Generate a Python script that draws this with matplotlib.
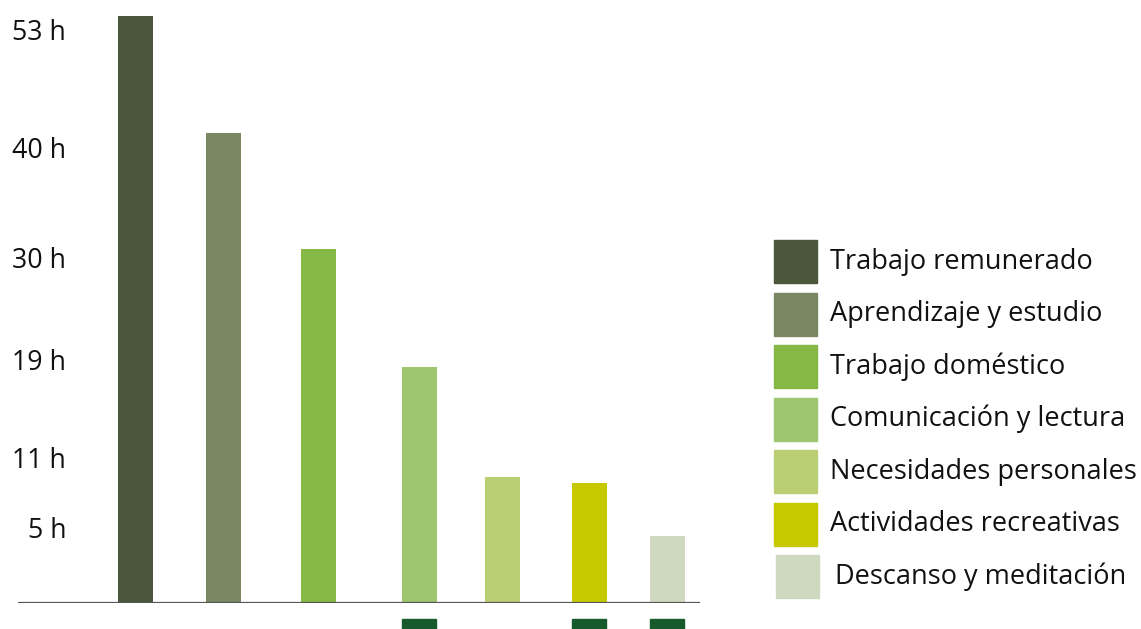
import numpy as np
import matplotlib
matplotlib.use("Agg")
import matplotlib.pyplot as plt
import matplotlib.transforms as mtransforms
from matplotlib.patches import Rectangle

# Weekly hours by activity
categories = [
    "Trabajo remunerado",
    "Aprendizaje y estudio",
    "Trabajo doméstico",
    "Comunicación y lectura",
    "Necesidades personales",
    "Actividades recreativas",
    "Descanso y meditación",
]
hours = [54.5, 41.7, 30.7, 18.4, 9.3, 8.8, 4.5]
colors = ["#4a573c", "#7a8862", "#86b845", "#9ec570", "#bace72", "#c6c900", "#cfd9bf"]

tick_values = [5, 11, 19, 30, 40, 53]
tick_labels = [f"{v} h" for v in tick_values]

# Layout: bar centres along the baseline and the dark markers under some bars
x_pos = [135.5, 223.5, 318.5, 419, 502.5, 589, 667]
marker_idx = [3, 5, 6]

W, H, DPI = 1141, 629, 100
plt.rcParams["font.family"] = ["Open Sans", "DejaVu Sans"]

fig = plt.figure(figsize=(W / DPI, H / DPI), dpi=DPI)
base_px = 603
ax = fig.add_axes([18 / W, (H - base_px) / H, (700 - 18) / W, base_px / H])

# Uneven value axis: tick hours placed at fixed heights
knot_h = np.array([0, 5, 11, 19, 30, 40, 53, 90])
knot_p = np.array([0, 75, 146, 243, 346, 455, 573, 573 + 37 * (118 / 13)])


def fwd(v):
    return np.interp(v, knot_h, knot_p)


def inv(p):
    return np.interp(p, knot_p, knot_h)


ax.set_yscale("function", functions=(fwd, inv))
ax.set_ylim(0, inv(base_px))
ax.set_xlim(18, 700)

ax.bar(x_pos, hours, width=35, color=colors, edgecolor="none", zorder=2)

ax.set_yticks(tick_values)
ax.set_yticklabels(tick_labels)
ax.tick_params(axis="y", length=0, pad=-34.6, labelsize=19.3, labelcolor="#111111")
ax.tick_params(axis="x", bottom=False, labelbottom=False)
for s in ax.spines.values():
    s.set_visible(False)
ax.axhline(0, color="#555555", lw=1.6, zorder=3)
ax.set_facecolor("none")

# Dark markers just below the baseline
below = mtransforms.blended_transform_factory(ax.transData, fig.transFigure)
for i in marker_idx:
    ax.add_patch(Rectangle((x_pos[i] - 17, 0), 34, 10 / H, transform=below,
                           color="#175a2b", clip_on=False, zorder=2))

# Legend, laid out in pixel units from the top-left corner
px = mtransforms.Affine2D().scale(1 / W, -1 / H).translate(0, 1) + fig.transFigure
for k, (lab, col) in enumerate(zip(categories, colors)):
    y0 = 240 + k * 52.5
    dx = 2 if k == 6 else 0
    fig.patches.append(Rectangle((774 + dx, y0), 43, 43, transform=px, color=col))
    fig.text(830 + 2.5 * dx, y0 + 21.5, lab, transform=px, va="center", ha="left",
             fontsize=19.5, color="#111111")

fig.savefig("out.png", dpi=DPI)
